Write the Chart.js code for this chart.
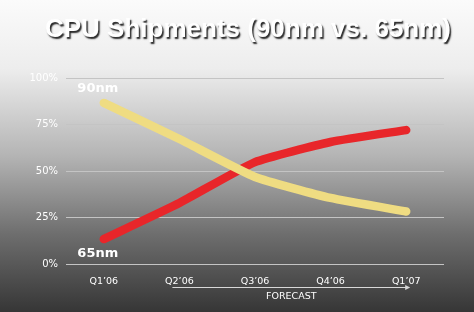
<!DOCTYPE html>
<html>
<head>
<meta charset="utf-8">
<script src="https://cdn.jsdelivr.net/npm/chart.js@4"></script>
<style>
html,body{margin:0;padding:0;width:474px;height:312px;overflow:hidden;}
#wrap{position:relative;width:474px;height:312px;}
</style>
</head>
<body>
<div id="wrap"><canvas id="c" width="474" height="312"></canvas></div>
<script>
const title = "CPU Shipments (90nm vs. 65nm)";
const categories = ["Q1\u201906", "Q2\u201906", "Q3\u201906", "Q4\u201906", "Q1\u201907"];
const nm90 = [86.6, 67.2, 46.8, 35.5, 28.2];
const nm65 = [13.4, 32.8, 54.8, 65.6, 72.0];
const yTicks = [0, 25, 50, 75, 100];
const forecastLabel = "FORECAST";

const decor = {
  id: 'decor',
  beforeDraw(chart) {
    const ctx = chart.ctx;
    const g = ctx.createLinearGradient(0, 0, 0, chart.height);
    g.addColorStop(0, '#fbfbfb');
    g.addColorStop(0.22, '#ededed');
    g.addColorStop(0.5, '#b4b4b4');
    g.addColorStop(0.75, '#6e6e6e');
    g.addColorStop(1, '#363636');
    ctx.save();
    ctx.fillStyle = g;
    ctx.fillRect(0, 0, chart.width, chart.height);
    ctx.restore();
  },
  afterDraw(chart) {
    const ctx = chart.ctx;
    const x = chart.scales.x, y = chart.scales.y;
    ctx.save();
    // title
    ctx.font = 'bold 26px "Liberation Sans", Arial, sans-serif';
    ctx.textAlign = 'center';
    ctx.textBaseline = 'middle';
    ctx.shadowColor = 'rgba(0,0,0,0.85)';
    ctx.shadowOffsetX = 1.5;
    ctx.shadowOffsetY = 1.5;
    ctx.shadowBlur = 1.5;
    ctx.fillStyle = '#ffffff';
    ctx.fillText(title, 248, 30);
    ctx.shadowColor = 'transparent';
    // series labels
    ctx.font = 'bold 13px "DejaVu Sans", Verdana, sans-serif';
    const x0 = x.getPixelForValue(0);
    ctx.fillText('90nm', x0 - 6, y.getPixelForValue(nm90[0]) - 14);
    ctx.fillText('65nm', x0 - 6, y.getPixelForValue(nm65[0]) + 15);
    // forecast arrow
    const ay = 287;
    const ax1 = x.getPixelForValue(1) - 7;
    const ax2 = x.getPixelForValue(4) + 4;
    ctx.strokeStyle = '#d8d8d8';
    ctx.fillStyle = '#d8d8d8';
    ctx.lineWidth = 1;
    ctx.beginPath();
    ctx.moveTo(ax1, ay + 0.5);
    ctx.lineTo(ax2 - 4, ay + 0.5);
    ctx.stroke();
    ctx.beginPath();
    ctx.moveTo(ax2, ay + 0.5);
    ctx.lineTo(ax2 - 5, ay - 2);
    ctx.lineTo(ax2 - 5, ay + 3);
    ctx.closePath();
    ctx.fill();
    ctx.fillStyle = '#ffffff';
    ctx.font = '9.5px "DejaVu Sans", Verdana, sans-serif';
    ctx.fillText(forecastLabel, (ax1 + ax2) / 2, 297);
    ctx.restore();
  }
};

new Chart(document.getElementById('c'), {
  type: 'line',
  data: {
    labels: categories,
    datasets: [
      { label: '90nm', data: nm90, borderColor: '#efdc82', borderWidth: 8.5, pointRadius: 0, tension: 0.15, borderCapStyle: 'round', borderJoinStyle: 'round' },
      { label: '65nm', data: nm65, borderColor: '#e8262a', borderWidth: 8.5, pointRadius: 0, tension: 0.15, borderCapStyle: 'round', borderJoinStyle: 'round' }
    ]
  },
  options: {
    responsive: false,
    animation: false,
    devicePixelRatio: 1,
    layout: { padding: { top: 78, right: 30, left: 0, bottom: 0 } },
    plugins: { legend: { display: false }, tooltip: { enabled: false } },
    scales: {
      x: {
        offset: true,
        grid: { display: false, drawTicks: false },
        border: { display: false },
        ticks: { color: '#ffffff', font: { family: '"DejaVu Sans", Verdana, sans-serif', size: 9.5 }, padding: 12, maxRotation: 0 },
        afterFit(s) { s.height = 48; }
      },
      y: {
        min: 0, max: 100,
        afterBuildTicks(s) { s.ticks = yTicks.map(v => ({ value: v })); },
        grid: { color: '#c4c4c4', lineWidth: 1, drawTicks: false },
        border: { display: false },
        ticks: { color: '#ffffff', font: { family: '"DejaVu Sans", Verdana, sans-serif', size: 10 }, padding: 8, callback: v => v + '%' },
        afterFit(s) { s.width = 66; }
      }
    }
  },
  plugins: [decor]
});
</script>
</body>
</html>
